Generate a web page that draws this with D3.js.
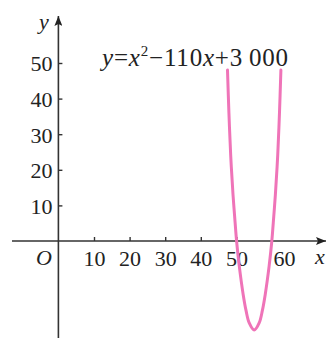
<!DOCTYPE html>
<html lang="en">
<head>
    <title>Parabola</title>
    <script src="https://d3js.org/d3.v7.min.js" charset="utf-8"></script>
    <style>
        body { margin: 0; background: #fff; }
        text { font-family: "Liberation Serif", "DejaVu Serif", serif; fill: #222; }
    </style>
</head>
<body>

<script>

    var w = 328;
    var h = 338;

    // tick labels
    var xTicks = [10, 20, 30, 40, 50, 60];
    var yTicks = [10, 20, 30, 40, 50];

    // curve y = x^2 - 110x + 3000
    var curveX = [47.5, 47.9, 48.4, 49.05, 49.5, 50.05, 50.8, 51.9, 52.7, 53.6, 55, 56.4, 57.3, 58.1, 59.2, 59.95, 60.5, 60.95, 61.6, 62.1, 62.5];
    var curveY = [48, 36, 24, 13, 7, 0, -7, -15, -19.5, -23, -25, -23, -19.5, -15, -7, 0, 7, 13, 24, 36, 48];

    var svg = d3.select("body")
        .append("svg")
        .attr("width", w)
        .attr("height", h);

    var x = d3.scaleLinear().domain([0, 60]).range([58.4, 272]);
    var y = d3.scaleLinear().domain([0, 50]).range([241, 63]);

    // pijlpunt
    svg.append("defs").append("marker")
        .attr("id", "arrow")
        .attr("viewBox", "0 0 10 8")
        .attr("refX", 10)
        .attr("refY", 4)
        .attr("markerWidth", 10)
        .attr("markerHeight", 8)
        .attr("markerUnits", "userSpaceOnUse")
        .attr("orient", "auto")
        .append("path")
        .attr("d", "M0,0 L10,4 L0,8 L2,4 Z")
        .attr("fill", "#222");

    // assen
    svg.append("line")
        .attr("x1", 12).attr("y1", y(0))
        .attr("x2", 326).attr("y2", y(0))
        .attr("stroke", "#333").attr("stroke-width", 1.6)
        .attr("marker-end", "url(#arrow)");

    svg.append("line")
        .attr("x1", x(0)).attr("y1", h)
        .attr("x2", x(0)).attr("y2", 16)
        .attr("stroke", "#333").attr("stroke-width", 1.6)
        .attr("marker-end", "url(#arrow)");

    var xAxis = svg.append("g")
        .attr("transform", "translate(0," + y(0) + ")")
        .call(d3.axisBottom(x).tickValues(xTicks).tickSize(-4).tickPadding(9));

    var yAxis = svg.append("g")
        .attr("transform", "translate(" + x(0) + ",0)")
        .call(d3.axisLeft(y).tickValues(yTicks).tickSize(-4).tickPadding(6));

    svg.selectAll(".domain").remove();
    svg.selectAll(".tick line").attr("stroke", "#333").attr("stroke-width", 1.4);
    svg.selectAll(".tick text")
        .attr("font-family", "Liberation Serif")
        .attr("font-size", 22)
        .attr("fill", "#222");
    xAxis.selectAll(".tick")
        .filter(function(d) { return d === 60; })
        .select("text").attr("dx", 12);
    xAxis.selectAll(".tick")
        .filter(function(d) { return d === 60; })
        .select("line").remove();
    yAxis.selectAll(".tick text").attr("dy", "0.36em");

    // de kromme
    var line = d3.line()
        .x(function(d, i) { return x(curveX[i]); })
        .y(function(d, i) { return y(curveY[i]); })
        .curve(d3.curveCatmullRom);

    svg.append("path")
        .datum(curveX)
        .attr("d", line)
        .attr("fill", "none")
        .attr("stroke", "#ef74b8")
        .attr("stroke-width", 3)
        .attr("stroke-linecap", "round");

    // labels
    svg.append("text")
        .attr("x", 44).attr("y", 265)
        .attr("text-anchor", "middle")
        .attr("font-size", 22).attr("font-style", "italic")
        .text("O");

    svg.append("text")
        .attr("x", 320).attr("y", 264)
        .attr("text-anchor", "middle")
        .attr("font-size", 22).attr("font-style", "italic")
        .text("x");

    svg.append("text")
        .attr("x", 44).attr("y", 29)
        .attr("text-anchor", "middle")
        .attr("font-size", 22).attr("font-style", "italic")
        .text("y");

    var f = svg.append("text")
        .attr("x", 102).attr("y", 66)
        .attr("font-size", 25)
        .attr("textLength", 186)
        .attr("lengthAdjust", "spacing");
    f.append("tspan").attr("font-style", "italic").text("y");
    f.append("tspan").text("=");
    f.append("tspan").attr("font-style", "italic").text("x");
    f.append("tspan").attr("font-size", 15).attr("dy", -10).text("2");
    f.append("tspan").attr("dy", 10).text("\u2212110");
    f.append("tspan").attr("font-style", "italic").text("x");
    f.append("tspan").text("+3\u2009000");

</script>
</body>
</html>
